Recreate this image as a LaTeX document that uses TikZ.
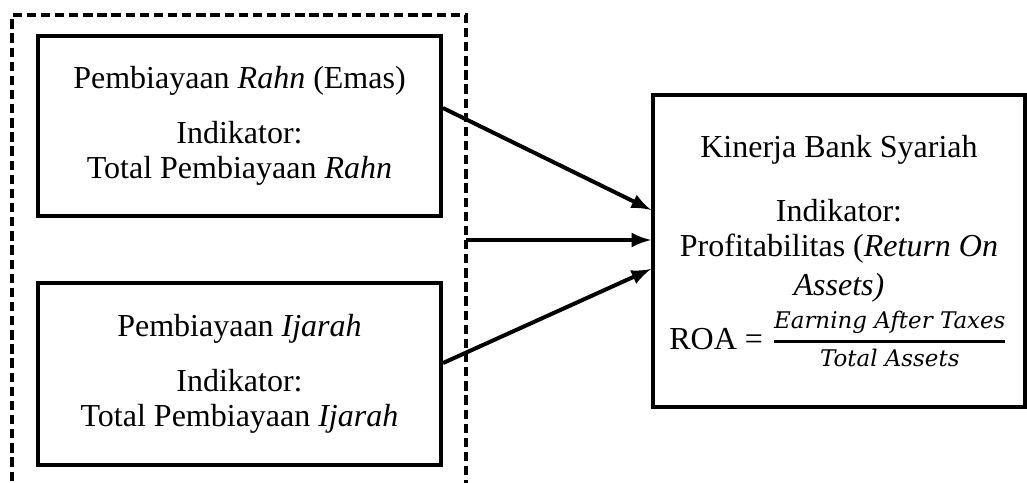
\documentclass[tikz,border=0pt]{standalone}
\usepackage{amsmath}
\usepackage{fontspec}
\setmainfont{Liberation Serif}
\newfontfamily\fracfont{DejaVu Serif}
\usetikzlibrary{arrows,positioning,calc}
\tikzset{
	block/.style = {draw, line width=1.5pt, rectangle, align=center, inner sep=0pt, font=\fontsize{12}{13.2}\selectfont},
	link/.style = {-latex, line width=1.5pt},
	frame/.style = {draw, line width=1.5pt, dash pattern=on 3.5pt off 1.8pt}
}
\newcommand{\fractext}[1]{\hbox{\fontsize{8.6}{9}\selectfont\fracfont\itshape #1}}

\begin{document}
\begin{tikzpicture}[x=0.375pt,y=-0.375pt]
		\useasboundingbox (0,0) rectangle (1027,483);
		\node [block, minimum width=151.1pt, minimum height=67.5pt] (rahn) at (239.5,126) {Pembiayaan \textit{Rahn} (Emas)\\[7.5pt]
		Indikator:\\ Total Pembiayaan \textit{Rahn}};
		\node [block, minimum width=151.1pt, minimum height=68.2pt] (ijarah) at (239.5,374) {Pembiayaan \textit{Ijarah}\\[7.5pt]
		Indikator:\\ Total Pembiayaan \textit{Ijarah}};
		\node [block, minimum width=139.5pt, minimum height=117pt] (kinerja) at (839,251) {Kinerja Bank Syariah\\[11pt]
		Indikator:\\ Profitabilitas (\textit{Return On}\\[1.5pt] \textit{Assets)}\\[2pt]
		ROA = $\genfrac{}{}{1.1pt}{1}{\fractext{Earning After Taxes\rule[-3.4pt]{0pt}{0pt}}}{\fractext{\rule{0pt}{7.8pt}Total Assets}}$};

		% kotak putus-putus
		\draw [frame] (12,495) -- (12,15) -- (466,15) -- (466,495);
		\coordinate (tap) at (466,240);

		\draw [link] ([yshift=6.75pt]rahn.east) -- ([yshift=15.4pt]kinerja.west);
		\draw [link] (tap) -- (tap -| kinerja.west);
		\draw [link] ([yshift=4.1pt]ijarah.east) -- ([yshift=-6.75pt]kinerja.west);
	\end{tikzpicture}
\end{document}
